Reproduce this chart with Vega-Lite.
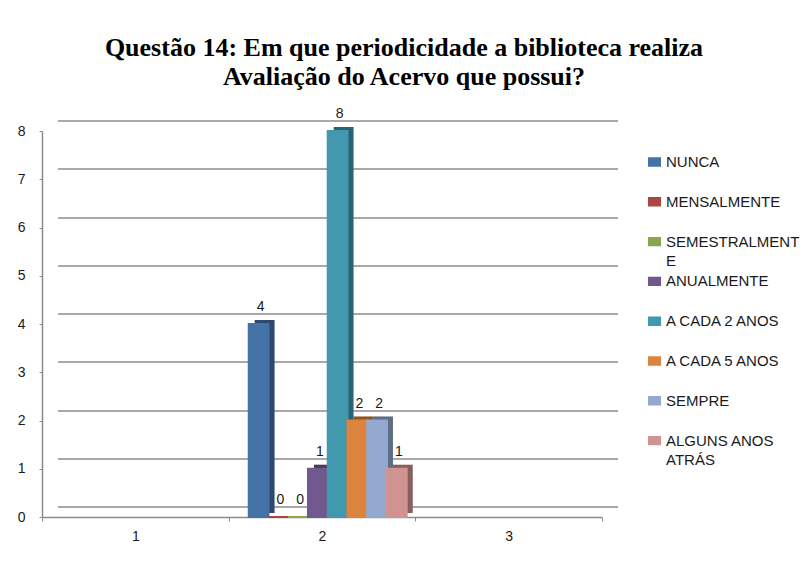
{
  "$schema": "https://vega.github.io/schema/vega-lite/v6.json",
  "width": 560,
  "height": 415,
  "autosize": "none",
  "padding": {"left": 42, "top": 102, "right": 209, "bottom": 46},
  "background": "white",
  "title": {
    "text": ["Questão 14: Em que  periodicidade a biblioteca realiza", "Avaliação do Acervo que possui?"],
    "font": "Liberation Serif",
    "fontSize": 26,
    "fontWeight": "bold",
    "color": "#000000",
    "anchor": "middle",
    "dx": 82,
    "offset": 12,
    "lineHeight": 29
  },
  "data": {
    "values": [
      {"cat": "2", "serie": "NUNCA", "valor": 4},
      {"cat": "2", "serie": "MENSALMENTE", "valor": 0},
      {"cat": "2", "serie": "SEMESTRALMENTE", "valor": 0},
      {"cat": "2", "serie": "ANUALMENTE", "valor": 1},
      {"cat": "2", "serie": "A CADA 2 ANOS", "valor": 8},
      {"cat": "2", "serie": "A CADA 5 ANOS", "valor": 2},
      {"cat": "2", "serie": "SEMPRE", "valor": 2},
      {"cat": "2", "serie": "ALGUNS ANOS ATRÁS", "valor": 1}
    ]
  },
  "layer": [
    {
      "mark": {"type": "point", "opacity": 0},
      "encoding": {
        "y": {
          "field": "valor",
          "type": "quantitative",
          "scale": {"domain": [0, 8], "range": [389, 3], "nice": false, "zero": false},
          "axis": {
            "orient": "left",
            "grid": true,
            "gridColor": "#8c8c8c",
            "gridWidth": 1.5,
            "labels": false,
            "ticks": false,
            "domain": false,
            "title": null,
            "values": [0, 1, 2, 3, 4, 5, 6, 7, 8],
            "translate": 16
          }
        }
      }
    },
    {
      "encoding": {
        "x": {
          "field": "cat",
          "type": "nominal",
          "scale": {"domain": ["1", "2", "3"], "paddingInner": 0, "paddingOuter": 0},
          "axis": {
            "title": null,
            "labelAngle": 0,
            "domain": true,
            "domainColor": "#8c8c8c",
            "domainWidth": 1.5,
            "ticks": true,
            "tickBand": "extent",
            "tickColor": "#8c8c8c",
            "tickSize": 4,
            "labelPadding": 8,
            "labelFont": "Liberation Sans",
            "labelFontSize": 14,
            "labelColor": "#1a1a1a",
            "grid": false
          }
        },
        "y": {
          "field": "valor",
          "type": "quantitative",
          "scale": {"domain": [0, 8], "range": [415, 29], "nice": false, "zero": false},
          "axis": {
            "orient": "left",
            "grid": false,
            "title": null,
            "values": [0, 1, 2, 3, 4, 5, 6, 7, 8],
            "domain": true,
            "domainColor": "#8c8c8c",
            "domainWidth": 1.5,
            "ticks": true,
            "tickColor": "#8c8c8c",
            "tickSize": 3,
            "labelPadding": 14,
            "labelFont": "Liberation Sans",
            "labelFontSize": 14,
            "labelColor": "#1a1a1a"
          }
        }
      },
      "layer": [
        {
          "mark": {"type": "bar", "yOffset": -4, "strokeWidth": 0},
          "encoding": {
            "xOffset": {
              "field": "serie",
              "type": "nominal",
              "sort": ["NUNCA", "MENSALMENTE", "SEMESTRALMENTE", "ANUALMENTE", "A CADA 2 ANOS", "A CADA 5 ANOS", "SEMPRE", "ALGUNS ANOS ATRÁS"],
              "scale": {"paddingInner": 0, "paddingOuter": 0.726, "align": 0.909}
            },
            "color": {
              "field": "serie",
              "type": "nominal",
              "scale": {
                "domain": ["NUNCA", "MENSALMENTE", "SEMESTRALMENTE", "ANUALMENTE", "A CADA 2 ANOS", "A CADA 5 ANOS", "SEMPRE", "ALGUNS ANOS ATRÁS"],
                "range": ["#4572A7", "#AA4643", "#89A54E", "#71588F", "#4198AF", "#DB843D", "#93A9CF", "#D19392"]
              },
              "legend": {
                "title": null,
                "orient": "none",
                "legendX": 603,
                "legendY": 50,
                "padding": 0,
                "symbolType": "M-0.7,-0.5H0.7V0.5H-0.7Z",
                "symbolSize": 350,
                "symbolStrokeWidth": 0,
                "labelOffset": 2,
                "labelFont": "Liberation Sans",
                "labelFontSize": 15,
                "labelColor": "#1a1a1a",
                "labelBaseline": "alphabetic",
                "labelLimit": 200,
                "clipHeight": 20,
                "gridAlign": "all",
                "rowPadding": 2.8,
                "labelExpr": "datum.label == 'SEMESTRALMENTE' ? ['SEMESTRALMENT', 'E'] : datum.label == 'ALGUNS ANOS ATRÁS' ? ['ALGUNS ANOS', 'ATRÁS'] : datum.label",
                "encode": {"labels": {"update": {"dy": {"value": 5}, "lineHeight": {"value": 19}}}}
              }
            }
          }
        },
        {
          "mark": {"type": "bar", "yOffset": -4, "strokeWidth": 0, "color": "#000000", "opacity": 0.35},
          "encoding": {
            "xOffset": {
              "field": "serie",
              "type": "nominal",
              "sort": ["NUNCA", "MENSALMENTE", "SEMESTRALMENTE", "ANUALMENTE", "A CADA 2 ANOS", "A CADA 5 ANOS", "SEMPRE", "ALGUNS ANOS ATRÁS"],
              "scale": {"paddingInner": 0, "paddingOuter": 0.726, "align": 0.909}
            }
          }
        },
        {
          "layer": [
            {
              "mark": {"type": "bar", "strokeWidth": 2},
              "encoding": {
                "color": {"field": "serie", "type": "nominal"},
                "stroke": {
                  "field": "serie",
                  "type": "nominal",
                  "scale": {
                    "domain": ["NUNCA", "MENSALMENTE", "SEMESTRALMENTE", "ANUALMENTE", "A CADA 2 ANOS", "A CADA 5 ANOS", "SEMPRE", "ALGUNS ANOS ATRÁS"],
                    "range": ["#4572A7", "#AA4643", "#89A54E", "#71588F", "#4198AF", "#DB843D", "#93A9CF", "#D19392"]
                  },
                  "legend": null
                }
              }
            },
            {
              "mark": {"type": "text", "baseline": "alphabetic", "dy": -13, "dx": 2, "font": "Liberation Sans", "fontSize": 14, "color": "#1a1a1a"},
              "encoding": {
                "text": {"field": "valor", "type": "quantitative"}
              }
            }
          ],
          "encoding": {
            "xOffset": {
              "field": "serie",
              "type": "nominal",
              "sort": ["NUNCA", "MENSALMENTE", "SEMESTRALMENTE", "ANUALMENTE", "A CADA 2 ANOS", "A CADA 5 ANOS", "SEMPRE", "ALGUNS ANOS ATRÁS"],
              "scale": {"paddingInner": 0, "paddingOuter": 0.726, "align": 0.7}
            }
          }
        }
      ],
      "resolve": {"scale": {"xOffset": "independent"}}
    }
  ],
  "resolve": {"scale": {"y": "independent"}},
  "config": {"view": {"stroke": null}}
}
